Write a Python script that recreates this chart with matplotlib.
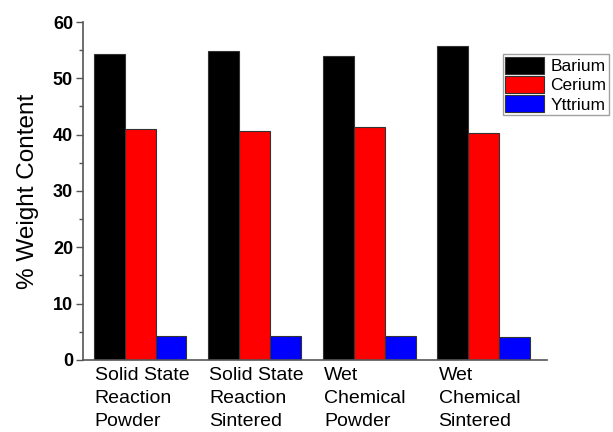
import numpy as np
import matplotlib.pyplot as plt
from matplotlib.ticker import MultipleLocator

# Data
samples = ["Solid State\nReaction\nPowder", "Solid State\nReaction\nSintered",
           "Wet\nChemical\nPowder", "Wet\nChemical\nSintered"]
barium = [54.3, 54.9, 54.0, 55.8]
cerium = [41.0, 40.6, 41.4, 40.3]
yttrium = [4.3, 4.3, 4.3, 4.1]

plt.rcParams['font.family'] = ['Liberation Sans', 'DejaVu Sans']

fig = plt.figure(figsize=(6.13, 4.32), dpi=100)
ax = fig.add_axes([0.135, 0.167, 0.757, 0.782])

x = np.arange(len(samples))
w = 0.27
ax.bar(x - w, barium, w, color="black", edgecolor="#333333", linewidth=0.8, label="Barium")
ax.bar(x, cerium, w, color="red", edgecolor="#333333", linewidth=0.8, label="Cerium")
ax.bar(x + w, yttrium, w, color="blue", edgecolor="#333333", linewidth=0.8, label="Yttrium")

ax.set_xlim(-0.5, 3.55)
ax.set_ylim(0, 60)
ax.yaxis.set_major_locator(MultipleLocator(10))
ax.yaxis.set_minor_locator(MultipleLocator(5))

for s in ["top", "right"]:
    ax.spines[s].set_visible(False)
for s in ["left", "bottom"]:
    ax.spines[s].set_color("#555555")
    ax.spines[s].set_linewidth(1.2)

ax.tick_params(axis="y", which="major", length=5, width=1, color="#555555", labelsize=13, pad=2)
ax.tick_params(axis="y", which="minor", length=3, width=1, color="#555555")
for lbl in ax.get_yticklabels():
    lbl.set_fontweight("bold")

ax.set_xticks(x - 1.5 * w + 0.01)
ax.set_xticklabels(samples, ha="left", fontsize=14, linespacing=1.45)
ax.tick_params(axis="x", length=0, pad=5)

ax.set_ylabel("% Weight Content", fontsize=17.5, labelpad=10)

leg = ax.legend(loc="upper left", bbox_to_anchor=(0.905, 0.905), fontsize=12.5,
                fancybox=False, frameon=True, edgecolor="#888888",
                handlelength=2.2, handleheight=1.15, handletextpad=0.4,
                labelspacing=0.1, borderpad=0.15, borderaxespad=0)
leg.get_frame().set_linewidth(1)

fig.savefig("out.png", dpi=100)
